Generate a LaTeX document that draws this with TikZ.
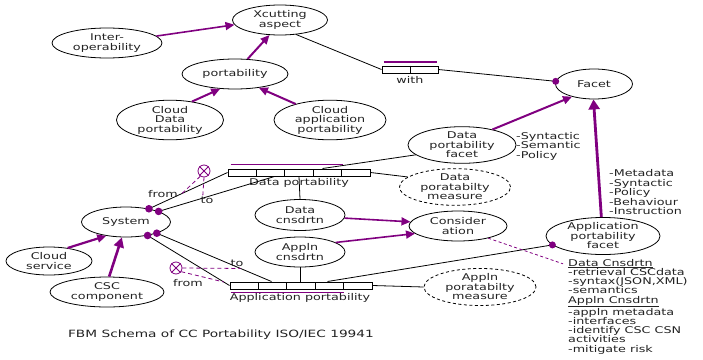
\documentclass[tikz,border=0pt]{standalone}
\usepackage{fontspec}
\setmainfont{DejaVu Sans}[FakeStretch=1.37]
\usetikzlibrary{shapes.geometric,arrows.meta,calc}
\definecolor{pur}{RGB}{128,0,128}
\definecolor{txt}{RGB}{34,34,34}
\begin{document}
\begin{tikzpicture}[x=1pt,y=-1pt,
  every node/.style={font=\fontsize{9.3}{9.5}\selectfont, text=txt},
  ell/.style={ellipse, draw, line width=0.8pt, inner sep=0pt, align=center},
  meas/.style={ell, dash pattern=on 3pt off 2.5pt},
  bar/.style={draw, line width=1pt, rectangle, inner sep=0pt, minimum height=7pt},
  conn/.style={line width=0.8pt},
  parr/.style={pur, line width=1.6pt, -{Triangle[length=9pt,width=8pt]}},
  pdash/.style={pur, dash pattern=on 4pt off 3pt, line width=0.8pt},
  lbl/.style={inner sep=0pt, align=left},
  xcirc/.style={circle, draw=pur, line width=0.8pt, minimum size=12pt, inner sep=0pt},
  pdot/.style={pur},
]
\useasboundingbox (0,0) rectangle (703,359);

% ellipses
\node[ell, minimum width=95pt, minimum height=30pt] (xc) at (280,20) {Xcutting\\aspect};
\node[ell, minimum width=110pt, minimum height=30pt] (inter) at (107,43) {Inter-\\operability};
\node[ell, minimum width=106pt, minimum height=30pt] (port) at (235,74) {portability};
\node[ell, minimum width=107pt, minimum height=34pt] (cdp) at (170,120) {Cloud\\Data\\portability};
\node[ell, minimum width=112pt, minimum height=34pt] (cap) at (330,120) {Cloud\\application\\portability};
\node[ell, minimum width=77pt, minimum height=30pt] (facet) at (594,84) {Facet};
\node[ell, minimum width=108pt, minimum height=35pt] (dpf) at (462,145) {Data\\portability\\facet};
\node[ell, minimum width=114pt, minimum height=32pt] (apf) at (603,236) {Application\\portability\\facet};
\node[ell, minimum width=98pt, minimum height=30pt] (cons) at (458,226) {Consider\\ation};
\node[meas, minimum width=111pt, minimum height=34pt] (dpm) at (455,187) {Data\\poratabilty\\measure};
\node[meas, minimum width=112pt, minimum height=33pt] (apm) at (480,287) {Appln\\poratabilty\\measure};
\node[ell, minimum width=90pt, minimum height=31pt] (dcn) at (300,215) {Data\\cnsdrtn};
\node[ell, minimum width=90pt, minimum height=30pt] (acn) at (300,252) {Appln\\cnsdrtn};
\node[ell, minimum width=89pt, minimum height=30pt] (sys) at (126,222) {System};
\node[ell, minimum width=86pt, minimum height=28pt] (cs) at (49,261) {Cloud\\service};
\node[ell, minimum width=114pt, minimum height=30pt] (cscc) at (107,292) {CSC\\component};

% relation bars
\node[bar, minimum width=56pt] (with) at (410,69.5) {};
\draw[line width=1pt] (with.north) -- (with.south);
\draw[pur, line width=1.2pt] ($(with.north west)+(2,-3.5)$) -- ($(with.north east)+(-2,-3.5)$);
\node (withl) at (410,80) {with};

\node[bar, minimum width=142pt] (dpb) at (299,172.5) {};
\foreach \i in {1,...,4}
  \draw[line width=1pt] ($(dpb.south west)!\i/5!(dpb.south east)$) -- ($(dpb.north west)!\i/5!(dpb.north east)$);
\draw[pur, line width=1.2pt] ($(dpb.north west)+(3,-4)$) -- ($(dpb.north west)+(115,-4)$);
\node (dpbl) at (299,183) {Data portability};

\node[bar, minimum width=142pt] (apb) at (301,285.5) {};
\foreach \i in {1,...,4}
  \draw[line width=1pt] ($(apb.south west)!\i/5!(apb.south east)$) -- ($(apb.north west)!\i/5!(apb.north east)$);
\draw[pur, line width=1.2pt] ($(apb.south west)+(1,3)$) -- ($(apb.south west)+(114,3)$);
\node (apbl) at (300,298) {Application portability};

% attachment points on bars
\coordinate (dpto) at ($(dpb.south west)+(47,0)$);
\coordinate (dpfa) at ($(dpb.north west)+(95,0)$);
\coordinate (apto) at ($(apb.north west)+(42,0)$);
\coordinate (apfa) at ($(apb.north west)+(98,0)$);

% black connectors
\draw[conn] (xc.-42) -- (with.west);
\draw[conn] (with.east) -- (facet.176);
\fill[pdot] (facet.176) circle (3.5pt);
\draw[conn] (dpf.192) -- (dpfa);
\draw[conn] (dpb.east) -- (dpm.168);
\draw[conn] (dpb.south) -- (dcn.north);
\draw[conn] (sys.30) -- (dpb.west);
\draw[conn] (sys.18) -- (dpto);
\fill[pdot] (sys.30) circle (3.8pt);
\fill[pdot] (sys.18) circle (3.8pt);
\draw[conn] (sys.-20) -- (apto);
\draw[conn] (sys.-32) -- (apb.west);
\fill[pdot] (sys.-20) circle (3.8pt);
\fill[pdot] (sys.-32) circle (3.8pt);
\draw[conn] (acn.south) -- (acn.south |- apb.north);
\draw[conn] (apb.east) -- (apm.west);
\draw[conn] (apf.190) -- (apfa);
\fill[pdot] (apf.190) circle (3.5pt);

% purple arrows
\draw[parr] (inter.8) -- (xc.186);
\draw[parr, line width=2pt] (port.50) -- (xc.235);
\draw[parr, line width=2pt] (cdp.40) -- (port.225);
\draw[parr, line width=2pt] (cap.155) -- (port.-30);
\draw[parr, line width=2.2pt] (cs.35) -- (sys.215);
\draw[parr, line width=2.6pt, -{Triangle[length=10pt,width=10pt]}] (cscc.82) -- (sys.255);
\draw[parr] (dcn.-4) -- (cons.175);
\draw[parr] (acn.15) -- (cons.190);
\draw[parr, line width=2pt] (dpf.27) -- (facet.210);
\draw[parr, line width=2.8pt, -{Triangle[length=10pt,width=11pt]}] (apf.95) -- (facet.-92);

% role markers
\node[xcirc] (c1) at (204,171) {};
\draw[pur, line width=0.8pt] (c1.45) -- (c1.225) (c1.135) -- (c1.315);
\draw[pdash] (c1.235) -- ($(sys.30)!0.42!(dpb.west)$);
\draw[pdash] (c1.south) -- ($(sys.18)!0.38!(dpto)$);
\node[xcirc] (c2) at (176,268) {};
\draw[pur, line width=0.8pt] (c2.45) -- (c2.225) (c2.135) -- (c2.315);
\draw[pdash] (c2.east) -- ($(sys.-20)!0.73!(apto)$);
\draw[pdash] (c2.-35) -- ($(sys.-32)!0.93!(apb.west)$);

\node (from1) at (163,194) {from};
\node (to1) at (207,200) {to};
\node (to2) at (237,263) {to};
\node (from2) at (188,283) {from};

% text annotations
\node[lbl, anchor=west] (dpfl) at (516,146) {-Syntactic\\-Semantic\\-Policy};
\node[lbl, anchor=west] (apfl) at (609,192.5) {-Metadata\\-Syntactic\\-Policy\\-Behaviour\\-Instruction};
\node[lbl, anchor=west, font=\fontsize{9.3}{9.25}\selectfont] (notes) at (568,306.5)
  {\underline{Data Cnsdrtn}\\-retrieval CSCdata\\-syntax(JSON,XML)\\-semantics\\\underline{Appln Cnsdrtn}\\-appln metadata\\-interfaces\\-identify CSC CSN\\activities\\-mitigate risk};
\coordinate (notesa) at ($(notes.north west)+(-5,5)$);
\draw[pdash, dash pattern=on 3pt off 2.5pt] (cons.-22) -- (notesa);

\node (cap) at (221,335) [font=\fontsize{10}{11}\selectfont] {FBM Schema of CC Portability ISO/IEC 19941};
\end{tikzpicture}
\end{document}
